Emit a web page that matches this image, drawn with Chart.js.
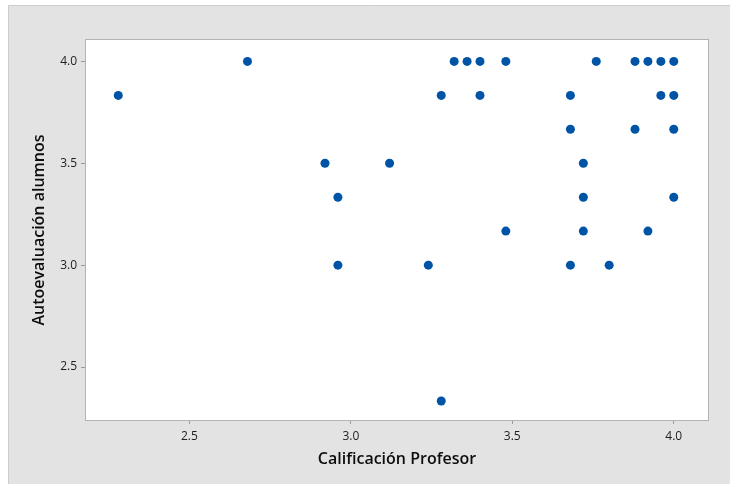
<!DOCTYPE html>
<html>
<head>
<meta charset="utf-8">
<script src="https://cdn.jsdelivr.net/npm/chart.js@4/dist/chart.umd.min.js"></script>
<style>
  html, body { margin: 0; padding: 0; background: #ffffff; }
  #wrap { width: 730px; height: 484px; position: relative; }
</style>
</head>
<body>
<div id="wrap"><canvas id="c" width="730" height="484"></canvas></div>
<script>
// Data
const calificacionProfesor = [
  2.68, 3.32, 3.36, 3.40, 3.48, 3.76, 3.88, 3.92, 3.96, 4.00,
  2.28, 3.28, 3.40, 3.68, 3.96, 4.00,
  3.68, 3.88, 4.00,
  2.92, 3.12, 3.72,
  2.96, 3.72, 4.00,
  3.48, 3.72, 3.92,
  2.96, 3.24, 3.68, 3.80,
  3.28
];
const autoevaluacionAlumnos = [
  4.000, 4.000, 4.000, 4.000, 4.000, 4.000, 4.000, 4.000, 4.000, 4.000,
  3.833, 3.833, 3.833, 3.833, 3.833, 3.833,
  3.667, 3.667, 3.667,
  3.500, 3.500, 3.500,
  3.333, 3.333, 3.333,
  3.167, 3.167, 3.167,
  3.000, 3.000, 3.000, 3.000,
  2.333
];
const xTicks = [2.5, 3.0, 3.5, 4.0];
const yTicks = [2.5, 3.0, 3.5, 4.0];
const xTitle = 'Calificación Profesor';
const yTitle = 'Autoevaluación alumnos';

const points = calificacionProfesor.map((x, i) => ({ x: x, y: autoevaluacionAlumnos[i] }));

const framePlugin = {
  id: 'frame',
  beforeDraw(chart) {
    const ctx = chart.ctx;
    ctx.save();
    ctx.fillStyle = '#ffffff';
    ctx.fillRect(0, 0, chart.width, chart.height);
    ctx.fillStyle = '#e3e3e3';
    ctx.fillRect(8, 5, chart.width - 8, chart.height - 5);
    ctx.strokeStyle = '#cdcdcd';
    ctx.lineWidth = 1;
    ctx.beginPath();
    ctx.moveTo(8.5, chart.height);
    ctx.lineTo(8.5, 5.5);
    ctx.lineTo(chart.width, 5.5);
    ctx.stroke();
    const a = chart.chartArea;
    ctx.fillStyle = '#ffffff';
    ctx.fillRect(a.left, a.top, a.right - a.left, a.bottom - a.top);
    ctx.restore();
  },
  afterDatasetsDraw(chart) {
    const ctx = chart.ctx;
    const a = chart.chartArea;
    ctx.save();
    ctx.strokeStyle = '#b3b3b3';
    ctx.lineWidth = 1;
    ctx.strokeRect(Math.round(a.left) - 0.5, Math.round(a.top) - 0.5,
                   Math.round(a.right - a.left) + 1, Math.round(a.bottom - a.top) + 1);
    ctx.restore();
  }
};

new Chart(document.getElementById('c'), {
  type: 'scatter',
  data: {
    datasets: [{
      data: points,
      backgroundColor: '#0054a6',
      borderWidth: 0,
      pointRadius: 4.5,
      pointHoverRadius: 4.5
    }]
  },
  options: {
    responsive: false,
    animation: false,
    events: [],
    layout: { padding: { left: 0, right: 22, top: 40, bottom: 0 } },
    plugins: { legend: { display: false }, tooltip: { enabled: false } },
    scales: {
      x: {
        type: 'linear',
        min: 2.18,
        max: 4.106,
        afterBuildTicks: (axis) => { axis.ticks = xTicks.map(v => ({ value: v })); },
        afterFit: (axis) => { axis.height = 64; },
        grid: { drawOnChartArea: false, drawTicks: true, tickLength: 4, tickColor: '#9a9a9a', tickWidth: 1 },
        border: { display: false },
        ticks: {
          padding: 5,
          color: '#1e1e1e',
          font: { family: 'Open Sans', size: 12 },
          callback: (v) => Number(v).toFixed(1),
          maxRotation: 0
        },
        title: {
          display: true,
          text: xTitle,
          color: '#0d0d0d',
          font: { family: 'Open Sans', size: 16, weight: '600' },
          padding: { top: 0, bottom: 15 }
        }
      },
      y: {
        type: 'linear',
        min: 2.24,
        max: 4.105,
        afterBuildTicks: (axis) => { axis.ticks = yTicks.map(v => ({ value: v })); },
        afterFit: (axis) => { axis.width = 86; },
        grid: { drawOnChartArea: false, drawTicks: true, tickLength: 5, tickColor: '#9a9a9a', tickWidth: 1 },
        border: { display: false },
        ticks: {
          padding: 4,
          color: '#1e1e1e',
          font: { family: 'Open Sans', size: 12 },
          callback: (v) => Number(v).toFixed(1)
        },
        title: {
          display: true,
          text: yTitle,
          color: '#0d0d0d',
          font: { family: 'Open Sans', size: 16, weight: '600' },
          padding: { top: 30, bottom: 0 }
        }
      }
    }
  },
  plugins: [framePlugin]
});
</script>
</body>
</html>
